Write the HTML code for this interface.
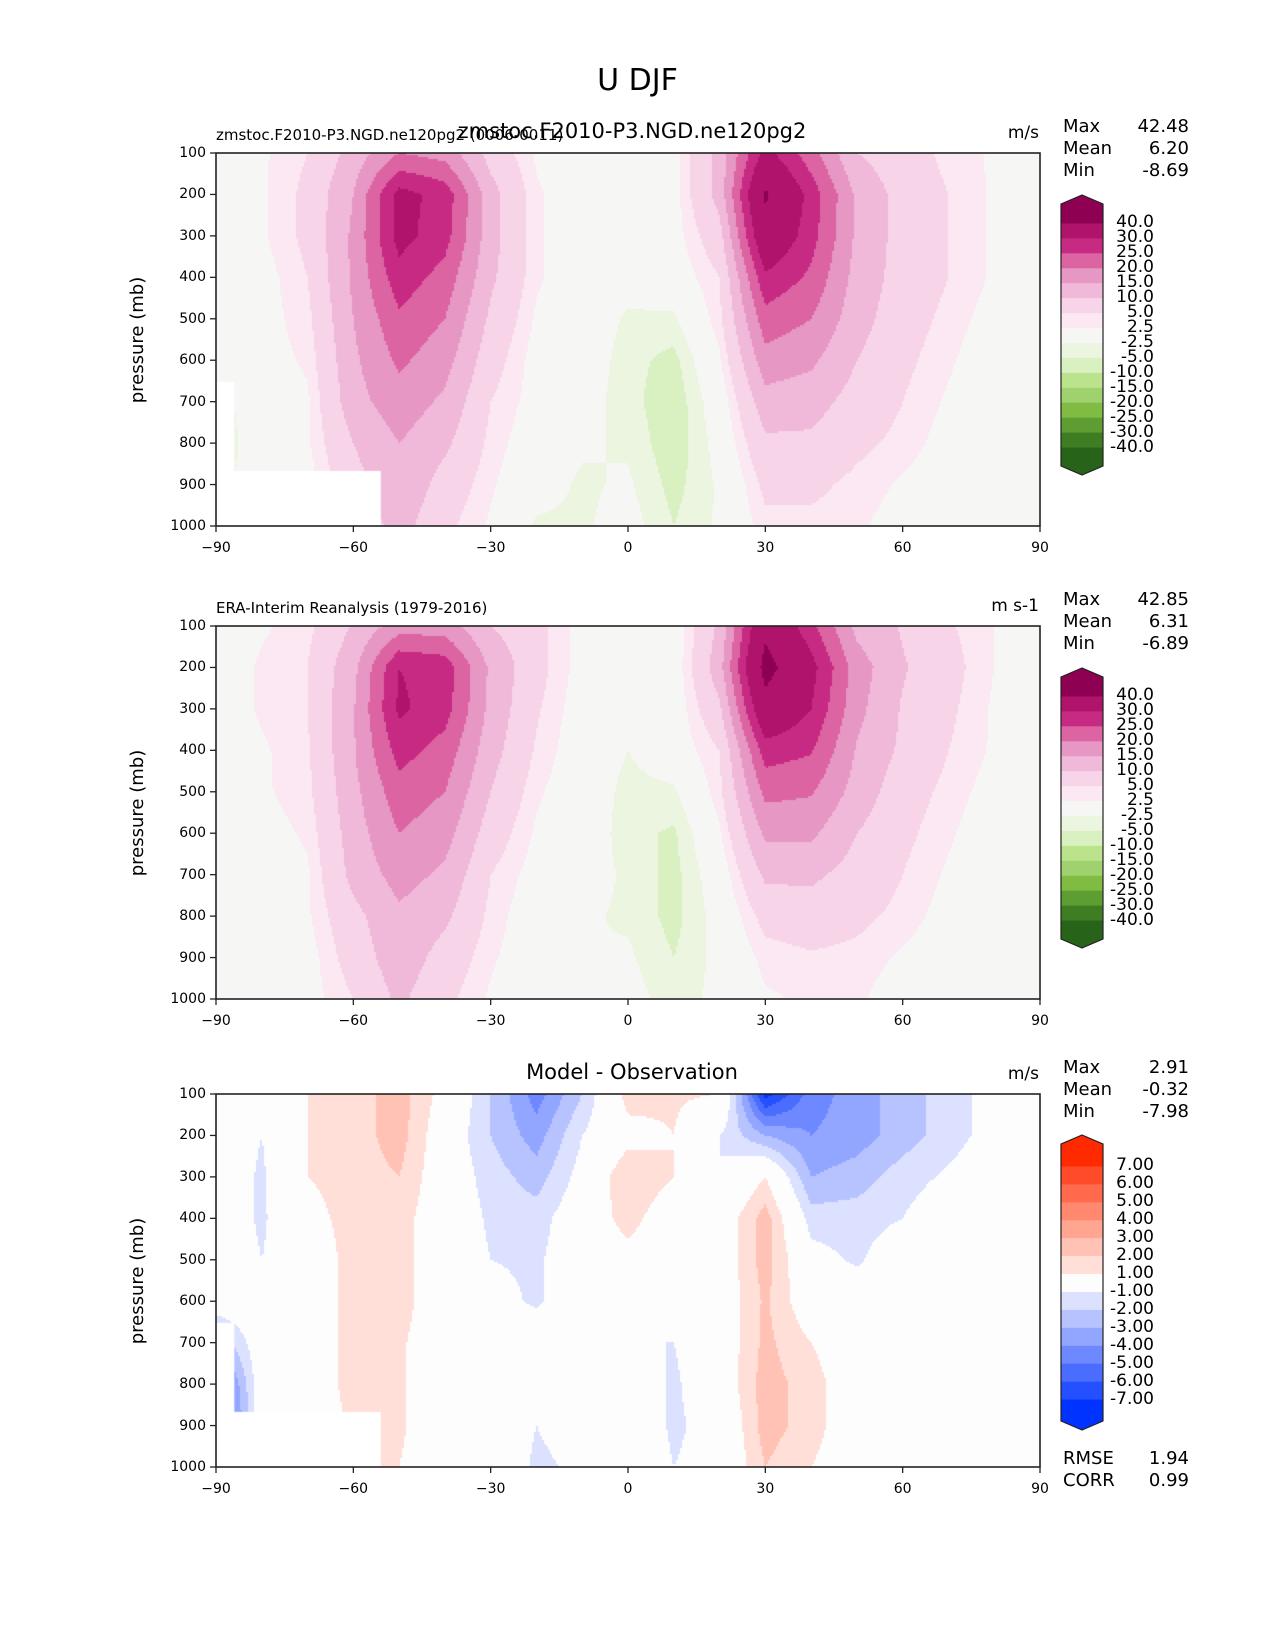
<!DOCTYPE html>
<html><head><meta charset="utf-8"><style>
body{margin:0;background:#fff;}
#root{position:relative;width:1275px;height:1650px;font-family:"DejaVu Sans","Liberation Sans",sans-serif;color:#000;overflow:hidden;}
.t{position:absolute;white-space:nowrap;line-height:1;}
canvas{position:absolute;}
</style></head><body>
<div id="root">
<div class="t" style="left:0;width:1275px;text-align:center;top:66px;font-size:30px;">U DJF</div>
<svg id="svg" width="1275" height="1650" style="position:absolute;left:0;top:0"></svg>
</div>
<script>
// ---- data ----
const lats=[-90,-80,-70,-60,-50,-40,-30,-20,-10,0,10,20,30,40,50,60,70,80,90];
const levs=[100,200,300,400,500,600,700,800,900,1000];
const modelU=[
[0,2,5,12,20,18,8,2,-1,-2,1,12,32,22,10,7,4,2,0],
[0,2,6,15,32,28,12,3,0,-1,1,12,41,28,14,8,5,2,0],
[0,2,6,16,32,27,12,3,0,0,1,8,37,27,14,8,5,2,0],
[0,1,5,16,28,23,11,3,0,-1,0,5,29,24,13,8,5,2,0],
[0,1,4,15,24,20,9,2,0,-3,-3,4,23,20,12,7,4,1,0],
[0,1,3,14,21,17,7,1,0,-4,-6,2,18,16,10,6,3,0,0],
[-4,0,2,13,18,14,5,1,-1,-4,-7,0,13,12,8,5,2,0,0],
[-5,0,2,10,15,11,4,0,-2,-3,-7,-1,9,9,6,4,1,0,0],
[-4,0,1,8,14,8,3,-1,-3,-2,-6,-2,6,6,4,2,0,0,0],
[-3,0,1,6,12,6,2,-3,-3,-1,-5,-2,4,4,3,1,0,0,0]];
const obsU=[
[0,2,4,10.5,17.5,17.5,10,6.5,1,-1,-0.2,11,38,26.5,13.5,9.5,5.5,2.5,0],
[0,3,5,13.5,30,28,14,6.5,1,-1.5,0,13,43,32,17.5,10.5,6.5,2.5,0],
[0,3,5,14.5,31,27,13.5,5.5,0.5,-2,0,9,37,30,16.5,9.5,5.8,2,0],
[0,2,4.5,14.5,27,23,12,4.5,0,-2.5,0,5,27.5,25.5,14.5,9,5,2,0],
[0,2,4,13.5,23,20,10,3,0,-3.5,-3,4,21.5,20.5,13,7,4,1,0],
[0,1,3,12.5,20,17,7.5,2,0,-4,-5.5,2,16,16,10,6,3,0,0],
[0,0,2,11.5,17,14,5,1,-1,-3,-6,0,11,11,8,5,2,0,0],
[0,0,2,8.5,14,11,4,0,-2,-3,-6,-1,6.5,7.5,6,4,1,0,0],
[0,0,1,7,13,8,3,0,-2.5,-2,-5,-1.5,3.5,4.5,4,2,0,0,0],
[0,0,1,5,11,6,2,-2,-2,-1,-4,-1.5,2,3,3,0.5,0,0,0]];
const diffU=[
[0,0,1,1.5,2.5,0.5,-2,-4.5,-2,1.5,1.2,1,-7.5,-4.5,-3.5,-2.5,-1.5,-0.5,0],
[0,-1,1,1.5,2.5,0,-2,-3.5,-1,0.5,1,-1,-3,-4,-3.5,-2.5,-1.5,-0.5,0],
[0,-1.2,1,1.5,2,0,-1.5,-2.5,-0.5,2,1,-1,1,-3,-2.5,-1.5,-0.8,0,0],
[0,-1.2,0.5,1.5,1.5,0,-1.2,-1.5,0,1.5,0,0,2.5,-1.5,-1.5,-1,0,0,0],
[0,-1,0,1.5,1.5,0,-1,-1.2,0,0.5,0,0,2.5,-0.5,-1.2,0,0,0,0],
[0,0,0,1.5,1.5,0,-0.5,-1.2,0,0,-0.5,0,2.2,0,0,0,0,0,0],
[-3,0,0,1.5,1.2,0,-0.2,0,0,-1,-1,0,2.3,1,0,0,0,0,0],
[-6,0,0,1.5,1.2,0,0,0,0,0,-1.2,0,2.5,1.5,0,0,0,0,0],
[-7,0,0,1.2,1.2,0,0,-1,-0.5,0,-1.2,-0.5,2.5,1.5,0,0,0,0,0],
[-7,0,0,1.2,1,0,0,-1.2,-0.8,0,-1,-0.5,2,1,0,0.5,0,0,0]];
const uBounds=[-40,-30,-25,-20,-15,-10,-5,-2.5,2.5,5,10,15,20,25,30,40];
const uLabels=["-40.0","-30.0","-25.0","-20.0","-15.0","-10.0","-5.0","-2.5","2.5","5.0","10.0","15.0","20.0","25.0","30.0","40.0"];
const uColors=["#276419","#3f7d22","#5e9d31","#7fbc41","#9fd26f","#bbe38b","#d9f0c0","#ecf5e0","#f6f6f4","#fbe8f2","#f7d4e8","#f0b8d9","#e697c3","#dc64a2","#c72a83","#b0136b","#8e0152"];
const dBounds=[-7,-6,-5,-4,-3,-2,-1,1,2,3,4,5,6,7];
const dLabels=["-7.00","-6.00","-5.00","-4.00","-3.00","-2.00","-1.00","1.00","2.00","3.00","4.00","5.00","6.00","7.00"];
const dColors=["#0033ff","#2450ff","#4a6dff","#6e89ff","#93a6ff","#b7c3ff","#dbe1ff","#fdfdfd","#ffdfd8","#ffc2b5","#ffa590","#ff886e","#ff6a4c","#ff4b2a","#ff2a00"];
const xTicks=[-90,-60,-30,0,30,60,90];
const yTicks=[100,200,300,400,500,600,700,800,900,1000];
const panels=[
 {top:153,field:modelU,b:uBounds,lab:uLabels,c:uColors,missing:true,left:"zmstoc.F2010-P3.NGD.ne120pg2 (0006-0011)",center:"zmstoc.F2010-P3.NGD.ne120pg2",units:"m/s",stats:["42.48","6.20","-8.69"],cb:[195,208,462,475]},
 {top:626,field:obsU,b:uBounds,lab:uLabels,c:uColors,missing:false,left:"ERA-Interim Reanalysis (1979-2016)",center:"",units:"m s-1",stats:["42.85","6.31","-6.89"],cb:[668,681,935,948]},
 {top:1094,field:diffU,b:dBounds,lab:dLabels,c:dColors,missing:true,left:"",center:"Model - Observation",units:"m/s",stats:["2.91","-0.32","-7.98"],cb:[1135,1148,1417,1430]}];
// ---- geometry ----
const L=216,R=1040,H=373;
const X=lat=>L+(lat+90)/180*(R-L);
const Y=(p,top)=>top+(p-100)/900*H;
const NS="http://www.w3.org/2000/svg";
const svg=document.getElementById('svg');const root=document.getElementById('root');
function sv(tag,a){const e=document.createElementNS(NS,tag);for(const k in a)e.setAttribute(k,a[k]);svg.appendChild(e);return e;}
function txt(s,x,y,size,anchor,name){const e=document.createElement('div');e.className='t';e.textContent=s;e.style.fontSize=size+'px';e.style.top=(y-size*0.5)+'px';
 if(anchor==='end'){e.style.right=(1275-x)+'px';}else if(anchor==='middle'){e.style.left=(x-300)+'px';e.style.width='600px';e.style.textAlign='center';}else e.style.left=x+'px';
 
 
 root.appendChild(e);return e;}
function interp(F,lat,p){let i=Math.min(17,Math.floor((lat+90)/10)),j=Math.min(8,Math.floor((p-100)/100));
 const fx=(lat-lats[i])/10,fy=(p-levs[j])/100;
 return (F[j][i]*(1-fx)+F[j][i+1]*fx)*(1-fy)+(F[j+1][i]*(1-fx)+F[j+1][i+1]*fx)*fy;}
function colorOf(v,b,c){let k=0;while(k<b.length&&v>=b[k])k++;return c[k];}
panels.forEach((P,pi)=>{
 const cv=document.createElement('canvas');cv.width=R-L;cv.height=H;cv.style.left=L+'px';cv.style.top=P.top+'px';
 
 
 root.insertBefore(cv,svg);const g=cv.getContext('2d');
 for(let px=0;px<R-L;px+=2)for(let py=0;py<H;py+=2){
  const lat=-90+(px+1)/(R-L)*180,p=100+(py+1)/H*900;
  g.fillStyle=colorOf(interp(P.field,lat,p),P.b,P.c);g.fillRect(px,py,2,2);}
 if(P.missing){g.fillStyle='#fff';g.fillRect(0,Y(867,0),X(-54)-L,H);g.fillRect(0,Y(652,0),X(-86)-L,H);}
 const fr=sv('rect',{x:L,y:P.top,width:R-L,height:H,fill:'none',stroke:'#222','stroke-width':1.6});
 
 
 xTicks.forEach(t=>{const l=sv('line',{x1:X(t),x2:X(t),y1:P.top+H,y2:P.top+H+6,stroke:'#222','stroke-width':1.3});
  
  
  txt(t<0?'\u2212'+(-t):String(t),X(t),P.top+H+22,14,'middle','x-tick-label');});
 yTicks.forEach(t=>{const l=sv('line',{x1:L-6,x2:L,y1:Y(t,P.top),y2:Y(t,P.top),stroke:'#222','stroke-width':1.3});
  
  
  txt(String(t),L-10,Y(t,P.top),14,'end','y-tick-label');});
 const yl=txt('pressure (mb)',138-300,P.top+H/2,18,'middle','y-axis-title');yl.style.left='-162px';yl.style.transform='rotate(-90deg)';
 if(P.left)txt(P.left,L,P.top-18,15,'start','panel-left-title');
 if(P.center)txt(P.center,632,P.top-22,21,'middle','panel-center-title');
 txt(P.units,1039,P.top-20,17,'end','units-label');
 ['Max','Mean','Min'].forEach((s,k)=>{txt(s,1063,P.top-26+k*22,18,'start','stat-name-'+s.toLowerCase());txt(P.stats[k],1189,P.top-26+k*22,18,'end','stat-value-'+s.toLowerCase());});
 // colorbar
 const [tt,rt,rb,bt]=P.cb,cx0=1061,cx1=1103,n=P.c.length,bh=(rb-rt)/n;
 for(let k=0;k<n;k++){const r=sv('rect',{x:cx0,y:rb-(k+1)*bh,width:cx1-cx0,height:bh+0.5,fill:P.c[k]});
  
  }
 const mid=(cx0+cx1)/2;
 const tu=sv('polygon',{points:`${cx0},${rt} ${cx0},${rt-4} ${mid},${tt} ${cx1},${rt-4} ${cx1},${rt}`,fill:P.c[n-1]});
 
 
 const td=sv('polygon',{points:`${cx0},${rb} ${cx0},${rb+4} ${mid},${bt} ${cx1},${rb+4} ${cx1},${rb}`,fill:P.c[0]});
 
 
 const ol=sv('polygon',{points:`${cx0},${rt-4} ${mid},${tt} ${cx1},${rt-4} ${cx1},${rb+4} ${mid},${bt} ${cx0},${rb+4}`,fill:'none',stroke:'#222','stroke-width':1.2});
 
 
 P.lab.forEach((s,k)=>txt(s,1154,rb-(k+1)*bh,17,'end','colorbar-label'));
});
txt('RMSE',1063,1459,18,'start','rmse-label');txt('1.94',1189,1459,18,'end','rmse-value');
txt('CORR',1063,1481,18,'start','corr-label');txt('0.99',1189,1481,18,'end','corr-value');
</script>
</body></html>
